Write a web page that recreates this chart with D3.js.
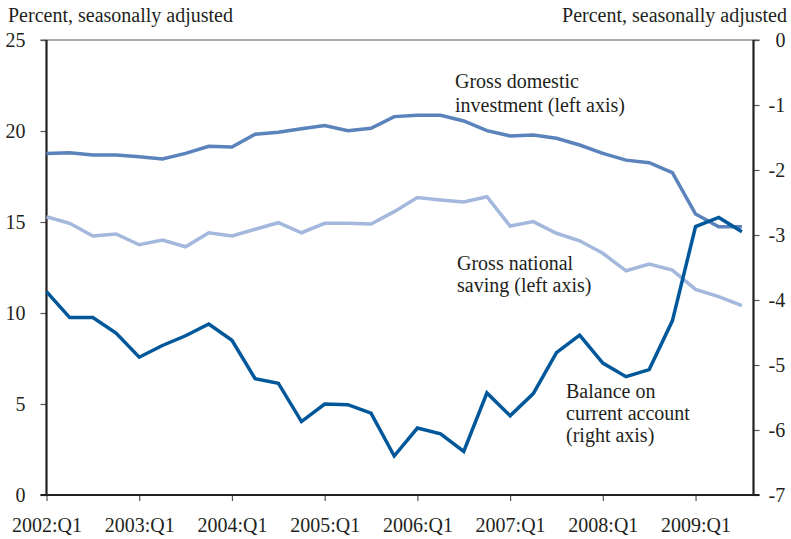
<!DOCTYPE html>
<html>
<head>
<meta charset="utf-8">
<script src="https://cdn.jsdelivr.net/npm/d3@7"></script>
<style>
  body { margin: 0; background: #fff; }
  text { font-family: "Liberation Serif", "Times New Roman", serif; fill: #231f20; }
</style>
</head>
<body>
<svg id="chart" width="791" height="539"></svg>
<script>
const quarters = d3.range(31).map(i => `${2002 + Math.floor(i / 4)}:Q${(i % 4) + 1}`);
const xTickLabels = ["2002:Q1","2003:Q1","2004:Q1","2005:Q1","2006:Q1","2007:Q1","2008:Q1","2009:Q1"];
const leftTicks = [0, 5, 10, 15, 20, 25];
const rightTicks = [0, -1, -2, -3, -4, -5, -6, -7];

const investment = [18.77,18.8,18.68,18.68,18.59,18.46,18.77,19.16,19.12,19.82,19.93,20.12,20.3,20.02,20.15,20.79,20.86,20.86,20.55,20.02,19.73,19.78,19.6,19.23,18.77,18.4,18.26,17.71,15.44,14.74,14.74];
const saving = [15.29,14.93,14.23,14.34,13.75,14.01,13.64,14.41,14.23,14.6,14.96,14.41,14.93,14.93,14.89,15.57,16.34,16.21,16.1,16.39,14.78,15.02,14.38,13.97,13.28,12.32,12.69,12.36,11.3,10.9,10.4];
const balance = [-3.87,-4.27,-4.27,-4.51,-4.88,-4.7,-4.55,-4.37,-4.62,-5.21,-5.28,-5.87,-5.6,-5.61,-5.74,-6.4,-5.97,-6.06,-6.33,-5.43,-5.78,-5.44,-4.81,-4.54,-4.97,-5.18,-5.07,-4.32,-2.87,-2.73,-2.95];

const FONT = "Liberation Serif";
const FS = 20;
const svg = d3.select("#chart");
const L = 46.5, R = 753.5, T = 40, B = 495;

const x = d3.scaleLinear().domain([0, 30.5]).range([L, R]);
const yL = d3.scaleLinear().domain([0, 25]).range([B, T]);
const yR = d3.scaleLinear().domain([-7, 0]).range([B, T]);

// top border
svg.append("line").attr("x1", L - 6).attr("x2", R + 6).attr("y1", T).attr("y2", T)
  .attr("stroke", "#555").attr("stroke-width", 1.2);

// left axis
const gL = svg.append("g").attr("transform", `translate(${L},0)`)
  .call(d3.axisLeft(yL).tickValues(leftTicks).tickSize(6).tickFormat(d => String(d)));
gL.select(".domain").remove();
gL.selectAll(".tick line").attr("stroke", "#555").attr("stroke-width", 1.2);
gL.selectAll(".tick text").attr("font-size", FS).attr("font-family", FONT).attr("fill", "#231f20")
  .attr("x", -21).attr("text-anchor", "end");
svg.append("line").attr("x1", L).attr("x2", L).attr("y1", T).attr("y2", B)
  .attr("stroke", "#231f20").attr("stroke-width", 2.2);

// right axis
const gR = svg.append("g").attr("transform", `translate(${R},0)`)
  .call(d3.axisRight(yR).tickValues(rightTicks).tickSize(6).tickFormat(d => String(d)));
gR.select(".domain").remove();
gR.selectAll(".tick line").attr("stroke", "#555").attr("stroke-width", 1.2);
gR.selectAll(".tick text").attr("font-size", FS).attr("font-family", FONT).attr("fill", "#231f20")
  .attr("x", d => d === 0 ? 22 : 15);
svg.append("line").attr("x1", R).attr("x2", R).attr("y1", T).attr("y2", B)
  .attr("stroke", "#231f20").attr("stroke-width", 2.2);

// bottom axis
const xTickVals = xTickLabels.map(l => quarters.indexOf(l));
const gB = svg.append("g").attr("transform", `translate(0,${B})`)
  .call(d3.axisBottom(x).tickValues(xTickVals).tickSize(6).tickPadding(17).tickFormat(i => quarters[i]));
gB.select(".domain").remove();
gB.selectAll(".tick line").attr("stroke", "#555").attr("stroke-width", 1.2);
gB.selectAll(".tick text").attr("font-size", FS).attr("font-family", FONT).attr("fill", "#231f20");
svg.append("line").attr("x1", L - 6).attr("x2", R + 6).attr("y1", B).attr("y2", B)
  .attr("stroke", "#231f20").attr("stroke-width", 2.2);

// axis titles
svg.append("text").attr("x", 8).attr("y", 22).attr("font-size", FS).attr("font-family", FONT).text("Percent, seasonally adjusted");
svg.append("text").attr("x", 787).attr("y", 22).attr("font-size", FS).attr("font-family", FONT).attr("text-anchor", "end").text("Percent, seasonally adjusted");

// lines
const lineL = d3.line().x((d, i) => x(i)).y(d => yL(d));
const lineR = d3.line().x((d, i) => x(i)).y(d => yR(d));
svg.append("path").datum(saving).attr("d", lineL).attr("fill", "none")
  .attr("stroke", "#a3b8dc").attr("stroke-width", 3.5);
svg.append("path").datum(investment).attr("d", lineL).attr("fill", "none")
  .attr("stroke", "#5a82bb").attr("stroke-width", 3.5);
svg.append("path").datum(balance).attr("d", lineR).attr("fill", "none")
  .attr("stroke", "#00579a").attr("stroke-width", 3.5);

// annotations
function label(xp, yp, lines, lh) {
  const t = svg.append("text").attr("x", xp).attr("y", yp).attr("font-size", FS).attr("font-family", FONT);
  lines.forEach((s, k) => t.append("tspan").attr("x", xp).attr("dy", k === 0 ? 0 : lh).text(s));
}
label(455, 88, ["Gross domestic", "investment (left axis)"], 24);
label(457, 270, ["Gross national", "saving (left axis)"], 22);
label(566, 398, ["Balance on", "current account", "(right axis)"], 22);
</script>
</body>
</html>
